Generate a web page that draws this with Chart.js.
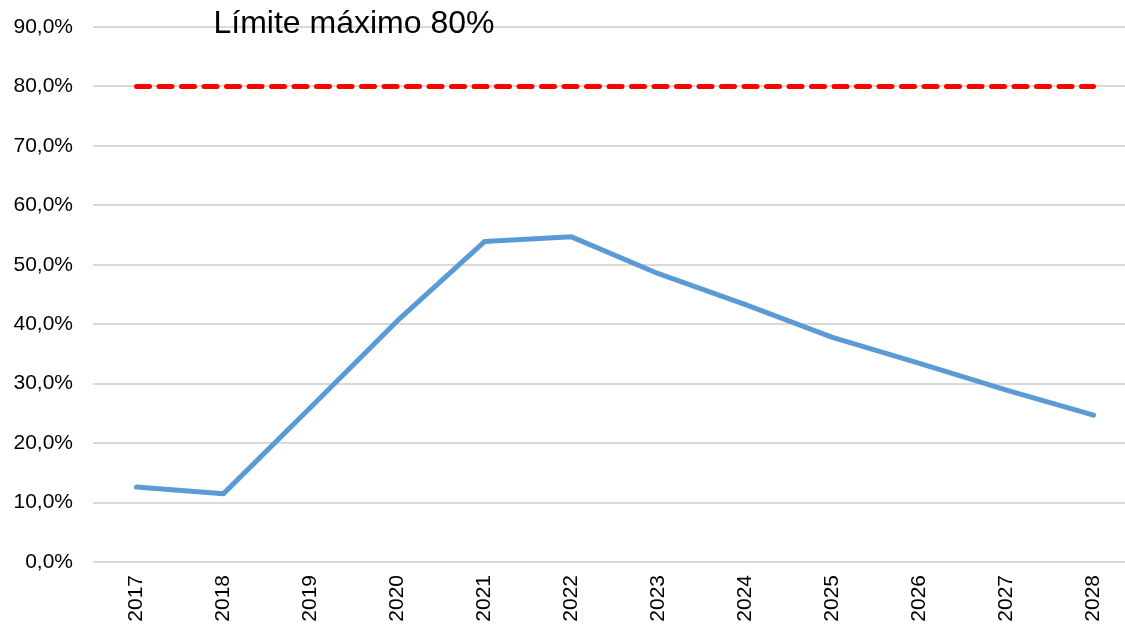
<!DOCTYPE html>
<html>
<head>
<meta charset="utf-8">
<script src="https://cdn.jsdelivr.net/npm/chart.js@4.4.1/dist/chart.umd.min.js"></script>
<style>
  html, body { margin: 0; padding: 0; background: #fff; overflow: hidden; }
  #wrap { position: relative; width: 1137px; height: 625px; }
</style>
</head>
<body>
<div id="wrap"><canvas id="ratioChart"></canvas></div>
<script>
// ========== DATA ==========
const years = ["2017", "2018", "2019", "2020", "2021", "2022", "2023", "2024", "2025", "2026", "2027", "2028"];
const ratio = [12.6, 11.5, 26.0, 40.6, 53.9, 54.7, 48.5, 43.3, 37.8, 33.4, 28.9, 24.7];
const limit = [80, 80, 80, 80, 80, 80, 80, 80, 80, 80, 80, 80];
const limitLabel = "Límite máximo 80%";
const yTicks = [0, 10, 20, 30, 40, 50, 60, 70, 80, 90];

const fontFamily = "'Liberation Sans', Arial, sans-serif";

// ========== LIMIT LABEL PLUGIN ==========
const limitText = {
  id: "limitText",
  afterDatasetsDraw(chart) {
    const x = chart.scales.x;
    const y = chart.scales.y;
    const c = chart.ctx;
    c.save();
    c.font = "32px " + fontFamily;
    c.fillStyle = "#000";
    c.textAlign = "left";
    c.textBaseline = "alphabetic";
    c.fillText(limitLabel, x.getPixelForValue(0) + 77, y.getPixelForValue(90) + 6);
    c.restore();
  }
};

const ctx = document.getElementById("ratioChart");

new Chart(ctx, {
  type: "line",
  data: {
    labels: years,
    datasets: [
      {
        label: "Ratio",
        data: ratio,
        borderColor: "#5b9bd5",
        borderWidth: 5,
        borderCapStyle: "round",
        borderJoinStyle: "round",
        pointRadius: 0,
        tension: 0
      },
      {
        label: limitLabel,
        data: limit,
        borderColor: "#ff0000",
        borderWidth: 5,
        borderDash: [13, 9.5],
        borderCapStyle: "round",
        pointRadius: 0,
        tension: 0
      }
    ]
  },
  options: {
    responsive: true,
    maintainAspectRatio: false,
    animation: false,
    layout: {
      padding: { top: 27, right: 0, left: 0, bottom: 3 }
    },
    plugins: {
      legend: { display: false },
      tooltip: { enabled: false }
    },
    scales: {
      x: {
        offset: true,
        grid: { display: false },
        border: { display: false },
        afterFit(axis) {
          axis.height = 60;
          axis.paddingLeft = 0;
          axis.paddingRight = 0;
        },
        ticks: {
          minRotation: 90,
          maxRotation: 90,
          padding: 5,
          color: "#000",
          font: { family: fontFamily, size: 21 }
        }
      },
      y: {
        min: 0,
        max: 90,
        afterBuildTicks(axis) {
          axis.ticks = yTicks.map(function (v) { return { value: v }; });
        },
        afterFit(axis) {
          axis.width = 93;
          axis.paddingTop = 0;
          axis.paddingBottom = 0;
        },
        grid: { color: "#d9d9d9", lineWidth: 2, drawTicks: false },
        border: { display: false },
        ticks: {
          padding: 20,
          color: "#000",
          font: { family: fontFamily, size: 21 },
          callback: function (v) { return v.toFixed(1).replace(".", ",") + "%"; }
        }
      }
    }
  },
  plugins: [limitText]
});
</script>
</body>
</html>
